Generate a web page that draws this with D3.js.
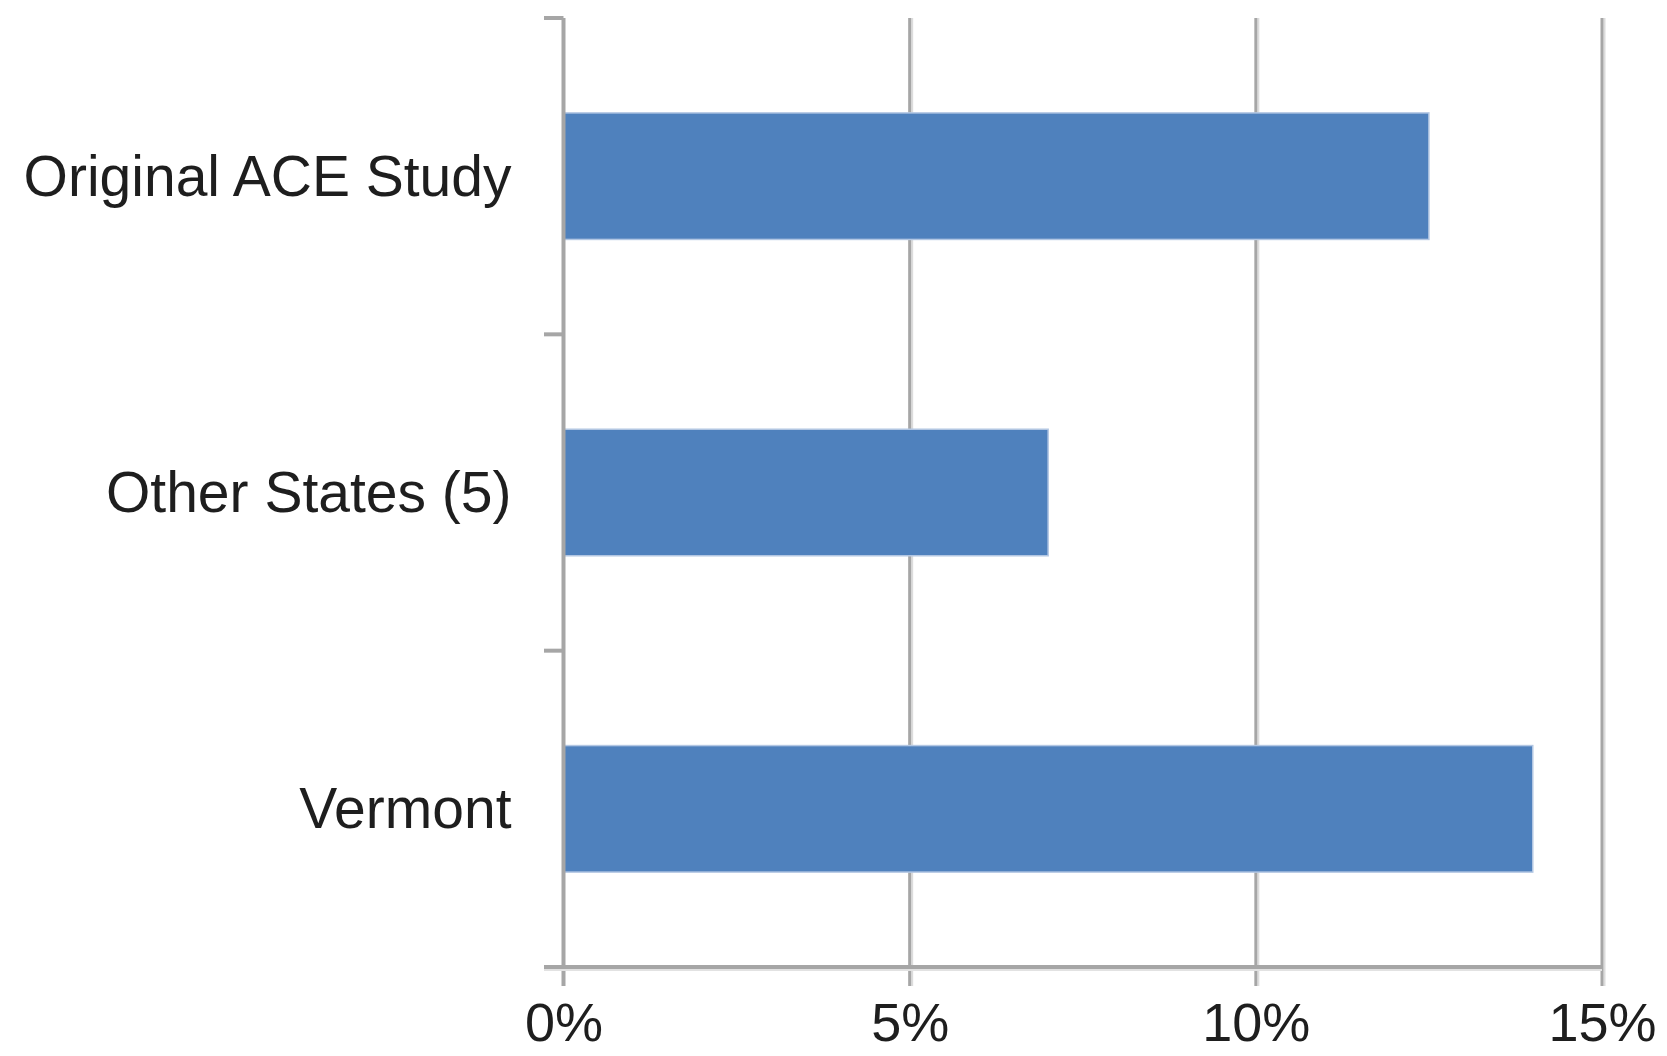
<!DOCTYPE html>
<html>
<head>
<meta charset="utf-8">
<script src="https://cdn.jsdelivr.net/npm/d3@7"></script>
<style>
  html, body { margin: 0; padding: 0; background: #ffffff; }
  svg { display: block; }
  text { font-family: "Liberation Sans", Arial, sans-serif; fill: #1e1e1e; }
</style>
</head>
<body>
<svg id="chart" width="1667" height="1056"></svg>
<script>
// ---- data ----
const categories = ["Original ACE Study", "Other States (5)", "Vermont"];
const values = [12.5, 7.0, 14.0];
const tickValues = [0, 5, 10, 15];
const tickLabels = ["0%", "5%", "10%", "15%"];

// ---- layout ----
const plotLeft = 563.5, plotRight = 1602, plotTop = 18, plotBottom = 967;
const svg = d3.select("#chart");

const x = d3.scaleLinear().domain([0, 15]).range([plotLeft, plotRight]);
const y = d3.scaleBand().domain(categories).range([plotTop, plotBottom])
  .paddingInner(0.6).paddingOuter(0.3);

const lineColor = "#a6a6a6";

// vertical gridlines (including the tick stubs below the baseline)
svg.append("g").selectAll("line").data(tickValues.slice(1)).join("line")
  .attr("x1", d => x(d) + 2.5).attr("x2", d => x(d) + 2.5)
  .attr("y1", plotTop).attr("y2", plotBottom + 19)
  .attr("stroke", "#dcdcdc").attr("stroke-width", 2);
svg.append("g").selectAll("line").data(tickValues.slice(1)).join("line")
  .attr("x1", d => x(d)).attr("x2", d => x(d))
  .attr("y1", plotTop).attr("y2", plotBottom + 19)
  .attr("stroke", lineColor).attr("stroke-width", 3);

// bars
svg.append("g").selectAll("rect").data(categories).join("rect")
  .attr("x", x(0))
  .attr("y", d => y(d))
  .attr("width", (d, i) => x(values[i]) - x(0))
  .attr("height", y.bandwidth())
  .attr("fill", "#4f81bd")
  .attr("stroke", "#b3c7e3")
  .attr("stroke-width", 1.5);

// y axis line
svg.append("line")
  .attr("x1", x(0)).attr("x2", x(0))
  .attr("y1", plotTop).attr("y2", plotBottom + 19)
  .attr("stroke", lineColor).attr("stroke-width", 4);

// category boundary ticks
const step = y.step();
const boundaries = [0, 1, 2].map(i => plotTop + i * step);
svg.append("g").selectAll("line").data(boundaries).join("line")
  .attr("x1", x(0) - 19.5).attr("x2", x(0))
  .attr("y1", d => d).attr("y2", d => d)
  .attr("stroke", lineColor).attr("stroke-width", 4);

// baseline
svg.append("line")
  .attr("x1", x(0) - 19.5).attr("x2", x(15))
  .attr("y1", plotBottom + 2.5).attr("y2", plotBottom + 2.5)
  .attr("stroke", "#e2e2e2").attr("stroke-width", 3);
svg.append("line")
  .attr("x1", x(0) - 19.5).attr("x2", x(15))
  .attr("y1", plotBottom).attr("y2", plotBottom)
  .attr("stroke", lineColor).attr("stroke-width", 4);

// x axis labels
const xAxis = d3.axisBottom(x).tickValues(tickValues)
  .tickFormat((d, i) => tickLabels[i]).tickSize(0).tickPadding(36);
const gx = svg.append("g").attr("transform", `translate(0,${plotBottom})`).call(xAxis);
gx.select(".domain").remove();
gx.selectAll("text").attr("font-size", 54).attr("fill", "#1e1e1e")
  .style("font-family", "'Liberation Sans', Arial, sans-serif");

// y axis labels
const yAxis = d3.axisLeft(y).tickSize(0).tickPadding(52);
const gy = svg.append("g").attr("transform", `translate(${x(0)},0)`).call(yAxis);
gy.select(".domain").remove();
gy.selectAll("text").attr("font-size", 57).attr("fill", "#1e1e1e")
  .attr("dy", "0.34em")
  .style("font-family", "'Liberation Sans', Arial, sans-serif");
</script>
</body>
</html>
